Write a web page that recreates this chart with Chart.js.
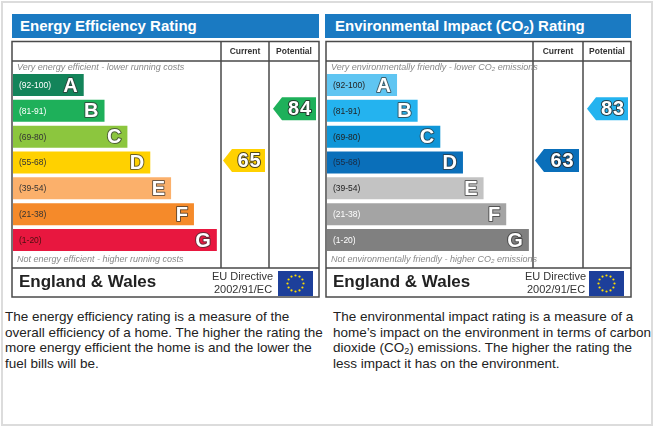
<!DOCTYPE html>
<html>
<head>
<meta charset="utf-8">
<script src="https://cdn.jsdelivr.net/npm/chart.js@4.4.1/dist/chart.umd.min.js"></script>
<style>
  html, body { margin:0; padding:0; background:#fff; width:656px; height:427px; overflow:hidden; font-family:"Liberation Sans", Arial, sans-serif; }
  .frame { position:absolute; left:1px; top:1px; width:648px; height:421px; border:2px solid #dcdcdc; }
  .title { position:absolute; top:14px; height:24px; background:#1a7ac2; color:#fff; font-weight:bold; font-size:15px; line-height:24px; box-sizing:border-box; white-space:nowrap; }
  .title sub { font-size:10px; vertical-align:-3px; line-height:0; }
  canvas { position:absolute; }
  .desc { position:absolute; top:309px; font-size:13.5px; line-height:15.7px; color:#222; white-space:nowrap; }
  .desc sub { font-size:9px; vertical-align:-2px; line-height:0; }
</style>
</head>
<body>
<div class="frame"></div>
<div class="title" style="left:12px;width:307px;padding-left:8px;">Energy Efficiency Rating</div>
<div class="title" style="left:325px;width:306px;padding-left:10px;">Environmental Impact (CO<sub>2</sub>) Rating</div>
<canvas id="ee" width="312" height="261" style="left:10px;top:39px;"></canvas>
<canvas id="ei" width="310" height="261" style="left:324px;top:39px;"></canvas>
<div class="desc" style="left:5px;">The energy efficiency rating is a measure of the<br>overall efficiency of a home. The higher the rating the<br>more energy efficient the home is and the lower the<br>fuel bills will be.</div>
<div class="desc" style="left:333px;">The environmental impact rating is a measure of a<br>home’s impact on the environment in terms of carbon<br>dioxide (CO<sub>2</sub>) emissions. The higher the rating the<br>less impact it has on the environment.</div>
<script>
// ---- data ----
const bands = ['A','B','C','D','E','F','G'];
const rangeLabels = ['(92-100)','(81-91)','(69-80)','(55-68)','(39-54)','(21-38)','(1-20)'];
const bandLowerBounds = [92,81,69,55,39,21,1];
const barLengths = [34,44,55,66,76,87,98];
const eeCurrent = 65;
const eePotential = 84;
const eiCurrent = 63;
const eiPotential = 83;
const eeColors = ['#13845a','#1eb05a','#8cc63e','#ffd100','#fbb06b','#f58a2a','#e8173f'];
const eiColors = ['#5fc5f2','#24b3ef','#0f96d8','#0a6fba','#c3c3c3','#a4a4a4','#808080'];
const eeRangeTextColors = ['#fff','#fff','#333','#333','#333','#333','#4a1010'];
const eiRangeTextColors = ['#222','#222','#222','#1a2a40','#222','#fff','#fff'];

function bandIndex(v){ for (let i=0;i<bandLowerBounds.length;i++){ if (v>=bandLowerBounds[i]) return i; } return bandLowerBounds.length-1; }

function drawFlag(ctx, x, y, w, h){
  ctx.save();
  ctx.fillStyle = '#1d3f9a';
  ctx.fillRect(x, y, w, h);
  ctx.fillStyle = '#ffdd00';
  const cx = x + w/2, cy = y + h/2, r = h*0.32;
  for (let i=0;i<12;i++){
    const a = i*Math.PI/6;
    ctx.beginPath(); ctx.arc(cx + r*Math.cos(a), cy + r*Math.sin(a), 1.1, 0, Math.PI*2); ctx.fill();
  }
  ctx.restore();
}

function outlinedText(ctx, txt, x, y, strokeColor){
  ctx.lineJoin = 'round';
  ctx.lineWidth = 2;
  ctx.strokeStyle = strokeColor;
  ctx.strokeText(txt, x, y);
  ctx.fillStyle = '#fff';
  ctx.fillText(txt, x, y);
}

function makePanel(id, colors, rangeColors, current, potential, layout, topText, bottomText){
  const epcPlugin = {
    id: 'epc',
    beforeDatasetsDraw(chart){
      const ctx = chart.ctx;
      const L = layout;
      ctx.save();
      ctx.strokeStyle = '#4a4a4a';
      ctx.lineWidth = 1.5;
      ctx.strokeRect(L.left, L.top, L.right - L.left, L.bottom - L.top);
      ctx.beginPath();
      ctx.moveTo(L.left, L.header); ctx.lineTo(L.right, L.header);
      ctx.moveTo(L.left, L.footer); ctx.lineTo(L.right, L.footer);
      ctx.moveTo(L.col1, L.top); ctx.lineTo(L.col1, L.footer);
      ctx.moveTo(L.col2, L.top); ctx.lineTo(L.col2, L.footer);
      ctx.stroke();
      ctx.fillStyle = '#333';
      ctx.font = 'bold 8.5px "Liberation Sans", Arial, sans-serif';
      ctx.textAlign = 'center'; ctx.textBaseline = 'middle';
      ctx.fillText('Current', (L.col1 + L.col2)/2, (L.top + L.header)/2 + 0.5);
      ctx.fillText('Potential', (L.col2 + L.right)/2, (L.top + L.header)/2 + 0.5);
      ctx.fillStyle = '#888';
      ctx.font = 'italic 9px "Liberation Sans", Arial, sans-serif';
      ctx.textAlign = 'left';
      ctx.fillText(topText, L.left + 5, L.header + 6.5);
      ctx.fillText(bottomText, L.left + 5, L.footer - 8.5);
      ctx.fillStyle = '#222';
      ctx.font = 'bold 17px "Liberation Sans", Arial, sans-serif';
      ctx.fillText('England & Wales', L.left + 7, (L.footer + L.bottom)/2);
      ctx.font = '11px "Liberation Sans", Arial, sans-serif';
      ctx.fillStyle = '#333';
      ctx.fillText('EU Directive', L.euX, L.footer + 9);
      ctx.fillText('2002/91/EC', L.euX + 2, L.footer + 22);
      drawFlag(ctx, L.flagX, L.footer + 3, 35, 25);
      ctx.restore();
    },
    afterDatasetsDraw(chart){
      const ctx = chart.ctx;
      const L = layout;
      const meta = chart.getDatasetMeta(0);
      const ys = chart.scales.y;
      ctx.save();
      meta.data.forEach((bar, i) => {
        const p = bar.getProps(['x','y','base','height'], true);
        ctx.textBaseline = 'middle';
        ctx.textAlign = 'left';
        ctx.font = '8.5px "Liberation Sans", Arial, sans-serif';
        ctx.fillStyle = rangeColors[i];
        ctx.fillText(rangeLabels[i], p.base + 6, p.y + 0.5);
        ctx.textAlign = 'right';
        ctx.font = 'bold 20px "Liberation Sans", Arial, sans-serif';
        outlinedText(ctx, bands[i], p.x - 6, p.y + 1, 'rgba(50,50,50,0.7)');
      });
      const drawArrow = (value, x0, x1) => {
        const idx = bandIndex(value);
        const cy = ys.getPixelForValue(idx) - 2;
        const h = 23, tip = 9;
        ctx.beginPath();
        ctx.moveTo(x0, cy);
        ctx.lineTo(x0 + tip, cy - h/2);
        ctx.lineTo(x1, cy - h/2);
        ctx.lineTo(x1, cy + h/2);
        ctx.lineTo(x0 + tip, cy + h/2);
        ctx.closePath();
        ctx.fillStyle = colors[idx];
        ctx.fill();
        ctx.font = 'bold 20px "Liberation Sans", Arial, sans-serif';
        ctx.textAlign = 'center'; ctx.textBaseline = 'middle';
        ctx.letterSpacing = '1px';
        const tx = (x0 + tip + x1)/2 + 1;
        outlinedText(ctx, String(value), tx, cy + 1, 'rgba(35,35,35,0.8)');
        ctx.letterSpacing = '0px';
      };
      drawArrow(current, L.col1 + 2, L.col2 - 4);
      drawArrow(potential, L.col2 + 4, L.right - 3);
      ctx.restore();
    }
  };

  return new Chart(document.getElementById(id), {
    type: 'bar',
    data: {
      labels: bands,
      datasets: [{
        data: barLengths,
        backgroundColor: colors,
        borderWidth: 0,
        barPercentage: 0.85,
        categoryPercentage: 1.0
      }]
    },
    options: {
      indexAxis: 'y',
      responsive: false,
      animation: false,
      devicePixelRatio: 1,
      layout: { padding: { left: 3, right: 101, top: 33.1, bottom: 47.1 } },
      scales: {
        x: { display: false, min: 0, max: 100 },
        y: { display: false }
      },
      plugins: { legend: { display: false }, tooltip: { enabled: false }, title: { display: false } }
    },
    plugins: [epcPlugin]
  });
}

makePanel('ee', eeColors, eeRangeTextColors, eeCurrent, eePotential,
  { left: 2, right: 309, top: 2.5, header: 22, footer: 229, bottom: 258, col1: 211, col2: 259, euX: 202, flagX: 268 },
  'Very energy efficient - lower running costs',
  'Not energy efficient - higher running costs');
makePanel('ei', eiColors, eiRangeTextColors, eiCurrent, eiPotential,
  { left: 2, right: 307, top: 2.5, header: 22, footer: 229, bottom: 258, col1: 209, col2: 259, euX: 201, flagX: 265 },
  'Very environmentally friendly - lower CO\u2082 emissions',
  'Not environmentally friendly - higher CO\u2082 emissions');
</script>
</body>
</html>
